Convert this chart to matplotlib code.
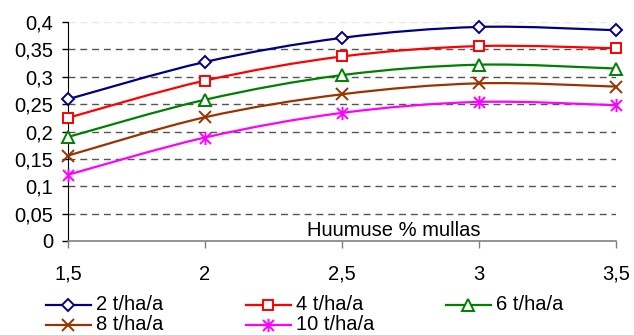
import numpy as np
import matplotlib
matplotlib.use("Agg")
import matplotlib.pyplot as plt
from matplotlib.path import Path
from matplotlib.patches import PathPatch
from matplotlib.lines import Line2D
from matplotlib.ticker import FuncFormatter

plt.rcParams['font.family'] = ['Liberation Sans', 'DejaVu Sans']

# data
humus = [1.5, 2.0, 2.5, 3.0, 3.5]
rate_labels = ["2 t/ha/a", "4 t/ha/a", "6 t/ha/a", "8 t/ha/a", "10 t/ha/a"]
y_2t = [0.259, 0.327, 0.371, 0.391, 0.385]
y_4t = [0.225, 0.293, 0.337, 0.356, 0.352]
y_6t = [0.190, 0.258, 0.303, 0.322, 0.315]
y_8t = [0.156, 0.226, 0.268, 0.288, 0.282]
y_10t = [0.121, 0.189, 0.234, 0.254, 0.248]
x_label = "Huumuse % mullas"

# asterisk marker like the spreadsheet one: x plus vertical bar
star = Path([(-0.5, -0.5), (0.5, 0.5), (-0.5, 0.5), (0.5, -0.5), (0, -0.6), (0, 0.6)],
            [Path.MOVETO, Path.LINETO, Path.MOVETO, Path.LINETO, Path.MOVETO, Path.LINETO])

styles = [
    ("#000080", "D", 5.8, "white"),
    ("#FF0000", "s", 7.8, "white"),
    ("#008000", "^", 8.5, "white"),
    ("#993300", "x", 8, "none"),
    ("#FF00FF", star, 9.5, "none"),
]
series = [y_2t, y_4t, y_6t, y_8t, y_10t]
FS = 14.5


def smooth_path(xs, ys):
    # bezier smoothing through the points (same idea as the spreadsheet smoothed line)
    pts = np.column_stack([xs, ys])
    n = len(pts)
    verts = [pts[0]]
    codes = [Path.MOVETO]
    for i in range(n - 1):
        p0 = pts[max(i - 1, 0)]
        p1 = pts[i]
        p2 = pts[i + 1]
        p3 = pts[min(i + 2, n - 1)]
        verts += [p1 + (p2 - p0) / 6, p2 - (p3 - p1) / 6, p2]
        codes += [Path.CURVE4] * 3
    return Path(verts, codes)


W, H = 634, 335
fig = plt.figure(figsize=(W / 100, H / 100), dpi=100)
ax = fig.add_axes([68 / W, 1 - 241 / H, (616 - 68) / W, (241 - 22) / H])

ax.set_xlim(1.5, 3.5)
ax.set_ylim(0, 0.4)
ax.set_xticks(humus)
ax.set_yticks(np.arange(0, 0.401, 0.05))
fmt = FuncFormatter(lambda v, p: f"{round(v, 2):g}".replace(".", ","))
ax.xaxis.set_major_formatter(fmt)
ax.yaxis.set_major_formatter(fmt)

for g in np.arange(0.05, 0.351, 0.05):
    ax.axhline(g, color="#555555", lw=1, dashes=(5, 3.5), zorder=1)
ax.axhline(0.4, color="#e8e8e8", lw=1, dashes=(5, 3.5), zorder=1)

for ys, (col, mk, ms, fc) in zip(series, styles):
    ax.add_patch(PathPatch(smooth_path(humus, ys), fill=False, edgecolor=col, lw=1.6, zorder=3))
    ax.plot(humus, ys, ls="none", marker=mk, ms=ms, mfc=fc, mec=col, mew=1.4, zorder=4,
            clip_on=False)

for s in ("top", "right"):
    ax.spines[s].set_visible(False)
ax.spines["left"].set_color("black")
ax.spines["bottom"].set_color("#808080")
ax.spines["bottom"].set_linewidth(1.2)
ax.tick_params(axis="y", length=4.5, width=1, color="black", pad=6, labelsize=FS)
ax.tick_params(axis="x", length=5, width=1, color="#808080", pad=12, labelsize=FS)

ax.text(0.595, 0.005, x_label, transform=ax.transAxes, ha="center", va="bottom", fontsize=FS)

# legend laid out like the original: three columns, row-wise order
for i, (lab, (col, mk, ms, fc)) in enumerate(zip(rate_labels, styles)):
    r, c = divmod(i, 3)
    x0 = 45.7 + 200 * c
    yy = 1 - (305 + 19.5 * r) / H
    fig.add_artist(Line2D([x0 / W, (x0 + 45) / W], [yy, yy], color=col, lw=1.6,
                          transform=fig.transFigure))
    fig.add_artist(Line2D([(x0 + 22.5) / W], [yy], ls="none", marker=mk, ms=ms, mfc=fc,
                          mec=col, mew=1.4, transform=fig.transFigure))
    fig.text((x0 + 50) / W, yy, lab, ha="left", va="center", fontsize=FS)

fig.savefig("out.png", dpi=100)
